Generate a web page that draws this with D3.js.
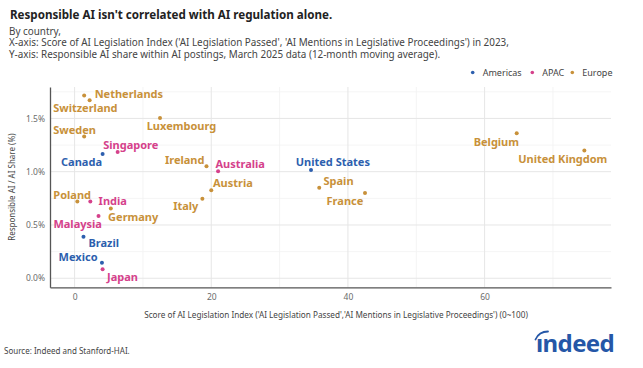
<!DOCTYPE html>
<html>
<head>
<meta charset="utf-8">
<script src="https://cdn.jsdelivr.net/npm/d3@7/dist/d3.min.js"></script>
<style>
  html, body { margin: 0; padding: 0; background: #fff; }
  svg { display: block; font-family: "Noto Sans", sans-serif; }
</style>
</head>
<body>
<svg id="chart" width="643" height="368"></svg>
<script>
// ── Data ──────────────────────────────────────────────────────────────────────
const countries = ['Netherlands', 'Switzerland', 'Sweden', 'Luxembourg', 'Singapore', 'Canada',
  'Ireland', 'Australia', 'Austria', 'Italy', 'Poland', 'India', 'Germany', 'Malaysia',
  'Brazil', 'Mexico', 'Japan', 'United States', 'Spain', 'France', 'Belgium', 'United Kingdom'];
const regions = ['Europe', 'Europe', 'Europe', 'Europe', 'APAC', 'Americas',
  'Europe', 'APAC', 'Europe', 'Europe', 'Europe', 'APAC', 'Europe', 'APAC',
  'Americas', 'Americas', 'APAC', 'Americas', 'Europe', 'Europe', 'Europe', 'Europe'];
const legislationScore = [2.2, 1.4, 1.4, 12.5, 6.3, 4.1,
  19.3, 21.0, 20.0, 18.7, 0.4, 2.3, 5.3, 3.5,
  1.3, 4.0, 4.1, 34.6, 35.8, 42.5, 64.7, 74.6];
const responsibleShare = [1.67, 1.715, 1.33, 1.505, 1.185, 1.165,
  1.05, 1.005, 0.825, 0.745, 0.72, 0.72, 0.655, 0.585,
  0.39, 0.145, 0.085, 1.015, 0.85, 0.80, 1.36, 1.20];

const legendRegions = ['Americas', 'APAC', 'Europe'];
const regionColors = ['#2d5fae', '#d5418b', '#c8913a'];
const xTicks = [0, 20, 40, 60];
const xMinor = [10, 30, 50, 70];
const yTicks = [0, 0.5, 1.0, 1.5];
const yMinor = [0.25, 0.75, 1.25, 1.75];

// label placement (px from the dot): [dx, dy, anchor]
const labelPos = {
  'Netherlands': [5, -6, 'start'], 'Switzerland': [-31, 13, 'start'], 'Sweden': [-31, -6.7, 'start'],
  'Luxembourg': [-13.3, 8.3, 'start'], 'Singapore': [-14.4, -7, 'start'], 'Canada': [-0.6, 7.7, 'end'],
  'Ireland': [-2, -6.7, 'end'], 'Australia': [-2.7, -7, 'start'], 'Austria': [1.7, -6.7, 'start'],
  'Italy': [-4, 7, 'end'], 'Poland': [-24, -6.7, 'start'], 'India': [8.3, 0, 'start'],
  'Germany': [-2.7, 8.4, 'start'], 'Malaysia': [3.4, 8.3, 'end'], 'Brazil': [5, 6, 'start'],
  'Mexico': [-4.4, -6, 'end'], 'Japan': [4.4, 8, 'start'], 'United States': [-15.3, -7.7, 'start'],
  'Spain': [4.3, -7, 'start'], 'France': [-1.7, 8, 'end'], 'Belgium': [2.3, 8.4, 'end'],
  'United Kingdom': [23, 8.3, 'end']
};

// ── Layout ────────────────────────────────────────────────────────────────────
const svg = d3.select('#chart');
const plot = { left: 50, right: 611, top: 87, bottom: 287.3 };

const x = d3.scaleLinear().domain([-3.6, 78.5]).range([plot.left, plot.right]);
const y = d3.scaleLinear().domain([-0.085, 1.795]).range([plot.bottom, plot.top]);
const color = d3.scaleOrdinal().domain(legendRegions).range(regionColors);

// ── Titles ────────────────────────────────────────────────────────────────────
svg.append('text').attr('x', 10).attr('y', 19)
  .attr('font-size', 11.6).attr('font-weight', 700).attr('fill', '#222')
  .text("Responsible AI isn't correlated with AI regulation alone.");

const sub = [
  'By country,',
  "X-axis: Score of AI Legislation Index ('AI Legislation Passed', 'AI Mentions in Legislative Proceedings') in 2023,",
  'Y-axis: Responsible AI share within AI postings, March 2025 data (12-month moving average).'
];
svg.append('g').selectAll('text').data(sub).join('text')
  .attr('x', 9).attr('y', (d, i) => 34.5 + i * 11.5)
  .attr('font-size', 9.9).attr('fill', '#444')
  .text(d => d);

// ── Legend ────────────────────────────────────────────────────────────────────
const legendX = [472.7, 532.3, 572.3];
const lg = svg.append('g').selectAll('g').data(legendRegions).join('g')
  .attr('transform', (d, i) => `translate(${legendX[i]},72.5)`);
lg.append('circle').attr('r', 1.8).attr('fill', d => color(d));
lg.append('text').attr('x', 10).attr('dy', '0.35em')
  .attr('font-size', 9).attr('fill', '#444').text(d => d);

// ── Grid ──────────────────────────────────────────────────────────────────────
const grid = svg.append('g');
grid.selectAll('.xm').data(xMinor).join('line')
  .attr('x1', d => x(d)).attr('x2', d => x(d)).attr('y1', plot.top).attr('y2', plot.bottom)
  .attr('stroke', '#f1f1f1').attr('stroke-width', 0.8);
grid.selectAll('.ym').data(yMinor).join('line')
  .attr('x1', plot.left).attr('x2', plot.right).attr('y1', d => y(d)).attr('y2', d => y(d))
  .attr('stroke', '#f1f1f1').attr('stroke-width', 0.8);
grid.selectAll('.xM').data(xTicks).join('line')
  .attr('x1', d => x(d)).attr('x2', d => x(d)).attr('y1', plot.top).attr('y2', plot.bottom)
  .attr('stroke', '#e6e6e6').attr('stroke-width', 1);
grid.selectAll('.yM').data(yTicks).join('line')
  .attr('x1', plot.left).attr('x2', plot.right).attr('y1', d => y(d)).attr('y2', d => y(d))
  .attr('stroke', '#e6e6e6').attr('stroke-width', 1);

// ── Axes ──────────────────────────────────────────────────────────────────────
const xAxis = svg.append('g').attr('transform', `translate(0,${plot.bottom})`)
  .call(d3.axisBottom(x).tickValues(xTicks).tickSize(0).tickPadding(7));
const yAxis = svg.append('g').attr('transform', `translate(${plot.left},0)`)
  .call(d3.axisLeft(y).tickValues(yTicks).tickSize(0).tickPadding(5)
    .tickFormat(d => d3.format('.1f')(d) + '%'));
[xAxis, yAxis].forEach(a => {
  a.select('.domain').attr('stroke', '#555').attr('stroke-width', 1.3);
  a.selectAll('text').attr('font-size', 8.5).attr('fill', '#6b6b6b')
    .attr('font-family', '"Noto Sans", sans-serif');
});

svg.append('text').attr('x', 336).attr('y', 318)
  .attr('text-anchor', 'middle').attr('font-size', 8.2).attr('fill', '#444')
  .text("Score of AI Legislation Index ('AI Legislation Passed','AI Mentions in Legislative Proceedings') (0~100)");

svg.append('text').attr('transform', `translate(15,${(plot.top + plot.bottom) / 2}) rotate(-90)`)
  .attr('text-anchor', 'middle').attr('font-size', 8).attr('fill', '#444')
  .text('Responsible AI / AI Share (%)');

// ── Points + labels ───────────────────────────────────────────────────────────
const pts = countries.map((c, i) => ({
  name: c, region: regions[i], xv: legislationScore[i], yv: responsibleShare[i]
}));

svg.append('g').selectAll('circle').data(pts).join('circle')
  .attr('cx', d => x(d.xv)).attr('cy', d => y(d.yv)).attr('r', 2)
  .attr('fill', d => color(d.region));

svg.append('g').selectAll('text').data(pts).join('text')
  .attr('x', d => x(d.xv) + labelPos[d.name][0])
  .attr('y', d => y(d.yv) + labelPos[d.name][1])
  .attr('dy', '0.35em')
  .attr('text-anchor', d => labelPos[d.name][2])
  .attr('font-size', 11).attr('font-weight', 700)
  .attr('fill', d => color(d.region))
  .text(d => d.name);

// ── Footer ────────────────────────────────────────────────────────────────────
svg.append('text').attr('x', 4).attr('y', 354)
  .attr('font-size', 8).attr('fill', '#444')
  .text('Source: Indeed and Stanford-HAI.');

const logo = svg.append('g').attr('fill', '#2557a7');
logo.append('text').attr('x', 536).attr('y', 351.5)
  .attr('font-size', 24).attr('font-weight', 700).attr('letter-spacing', -0.6)
  .text('\u0131ndeed');
logo.append('path')
  .attr('d', 'M535.5,339.5 Q539,331.5 548,331.5')
  .attr('fill', 'none').attr('stroke', '#2557a7').attr('stroke-width', 1.8)
  .attr('stroke-linecap', 'round');
</script>
</body>
</html>
